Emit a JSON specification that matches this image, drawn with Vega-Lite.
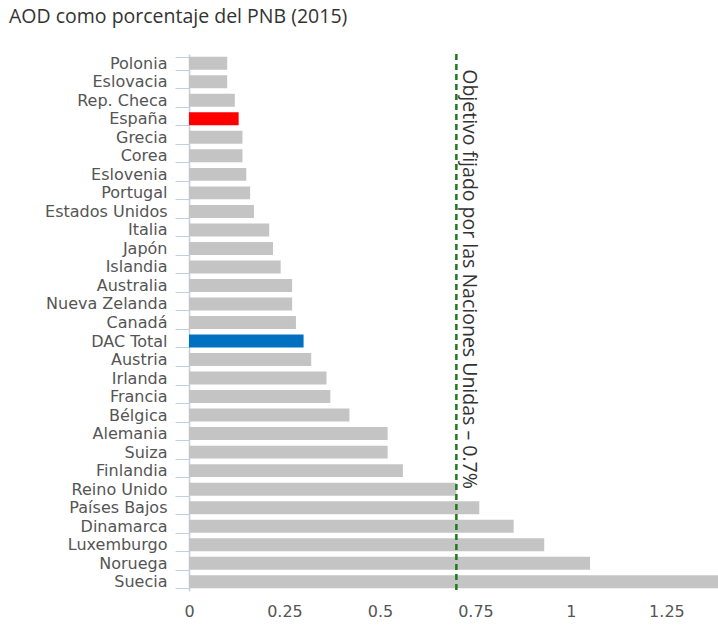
{
  "$schema": "https://vega.github.io/schema/vega-lite/v6.json",
  "autosize": {"type": "none"},
  "width": 529,
  "height": 537,
  "padding": {"left": 189, "top": 54, "right": 0, "bottom": 34},
  "background": "white",
  "title": {
    "text": "AOD como porcentaje del PNB (2015)",
    "anchor": "start",
    "frame": "group",
    "dx": -180,
    "offset": 19,
    "font": "Open Sans",
    "fontSize": 19.5,
    "fontWeight": "normal",
    "color": "#333333"
  },
  "config": {"view": {"stroke": null}},
  "layer": [
    {
      "data": {
        "values": [
          {"pais": "Polonia", "valor": 0.10, "grupo": "otro"},
          {"pais": "Eslovacia", "valor": 0.10, "grupo": "otro"},
          {"pais": "Rep. Checa", "valor": 0.12, "grupo": "otro"},
          {"pais": "España", "valor": 0.13, "grupo": "España"},
          {"pais": "Grecia", "valor": 0.14, "grupo": "otro"},
          {"pais": "Corea", "valor": 0.14, "grupo": "otro"},
          {"pais": "Eslovenia", "valor": 0.15, "grupo": "otro"},
          {"pais": "Portugal", "valor": 0.16, "grupo": "otro"},
          {"pais": "Estados Unidos", "valor": 0.17, "grupo": "otro"},
          {"pais": "Italia", "valor": 0.21, "grupo": "otro"},
          {"pais": "Japón", "valor": 0.22, "grupo": "otro"},
          {"pais": "Islandia", "valor": 0.24, "grupo": "otro"},
          {"pais": "Australia", "valor": 0.27, "grupo": "otro"},
          {"pais": "Nueva Zelanda", "valor": 0.27, "grupo": "otro"},
          {"pais": "Canadá", "valor": 0.28, "grupo": "otro"},
          {"pais": "DAC Total", "valor": 0.30, "grupo": "DAC"},
          {"pais": "Austria", "valor": 0.32, "grupo": "otro"},
          {"pais": "Irlanda", "valor": 0.36, "grupo": "otro"},
          {"pais": "Francia", "valor": 0.37, "grupo": "otro"},
          {"pais": "Bélgica", "valor": 0.42, "grupo": "otro"},
          {"pais": "Alemania", "valor": 0.52, "grupo": "otro"},
          {"pais": "Suiza", "valor": 0.52, "grupo": "otro"},
          {"pais": "Finlandia", "valor": 0.56, "grupo": "otro"},
          {"pais": "Reino Unido", "valor": 0.70, "grupo": "otro"},
          {"pais": "Países Bajos", "valor": 0.76, "grupo": "otro"},
          {"pais": "Dinamarca", "valor": 0.85, "grupo": "otro"},
          {"pais": "Luxemburgo", "valor": 0.93, "grupo": "otro"},
          {"pais": "Noruega", "valor": 1.05, "grupo": "otro"},
          {"pais": "Suecia", "valor": 1.40, "grupo": "otro"}
        ]
      },
      "mark": {"type": "bar", "clip": true},
      "encoding": {
        "y": {
          "field": "pais",
          "type": "nominal",
          "sort": null,
          "title": null,
          "scale": {"paddingInner": 0.3, "paddingOuter": 0.15},
          "axis": {
            "domainColor": "#c0d0e0",
            "domainWidth": 1.5,
            "tickColor": "#c0d0e0",
            "tickSize": 14,
            "tickWidth": 1,
            "tickBand": "extent",
            "labelPadding": 8,
            "labelFont": "DejaVu Sans",
            "labelFontSize": 16,
            "labelColor": "#555555"
          }
        },
        "x": {
          "field": "valor",
          "type": "quantitative",
          "title": null,
          "scale": {"domain": [0, 1.385], "nice": false, "zero": true},
          "axis": {
            "values": [0, 0.25, 0.5, 0.75, 1, 1.25],
            "format": ".2~f",
            "domain": false,
            "ticks": false,
            "grid": false,
            "labelPadding": 12,
            "labelFont": "DejaVu Sans",
            "labelFontSize": 16,
            "labelColor": "#555555",
            "labelFlush": false
          }
        },
        "color": {
          "field": "grupo",
          "type": "nominal",
          "legend": null,
          "scale": {"domain": ["otro", "España", "DAC"], "range": ["#c4c4c4", "#ff0000", "#0070c0"]}
        }
      }
    },
    {
      "data": {"values": [{"objetivo": 0.7, "pais": "Polonia", "texto": "Objetivo fijado por las Naciones Unidas – 0.7%"}]},
      "layer": [
        {
          "mark": {"type": "rule", "color": "#1e7a1e", "strokeWidth": 2.5, "strokeDash": [6, 4]},
          "encoding": {"x": {"field": "objetivo", "type": "quantitative"}}
        },
        {
          "mark": {"type": "text", "angle": 90, "align": "left", "baseline": "bottom", "dx": 6, "dy": -3, "font": "Open Sans", "fontSize": 19.5, "color": "#333333"},
          "encoding": {
            "x": {"field": "objetivo", "type": "quantitative"},
            "y": {"field": "pais", "type": "nominal", "sort": null},
            "text": {"field": "texto"}
          }
        }
      ]
    }
  ]
}
